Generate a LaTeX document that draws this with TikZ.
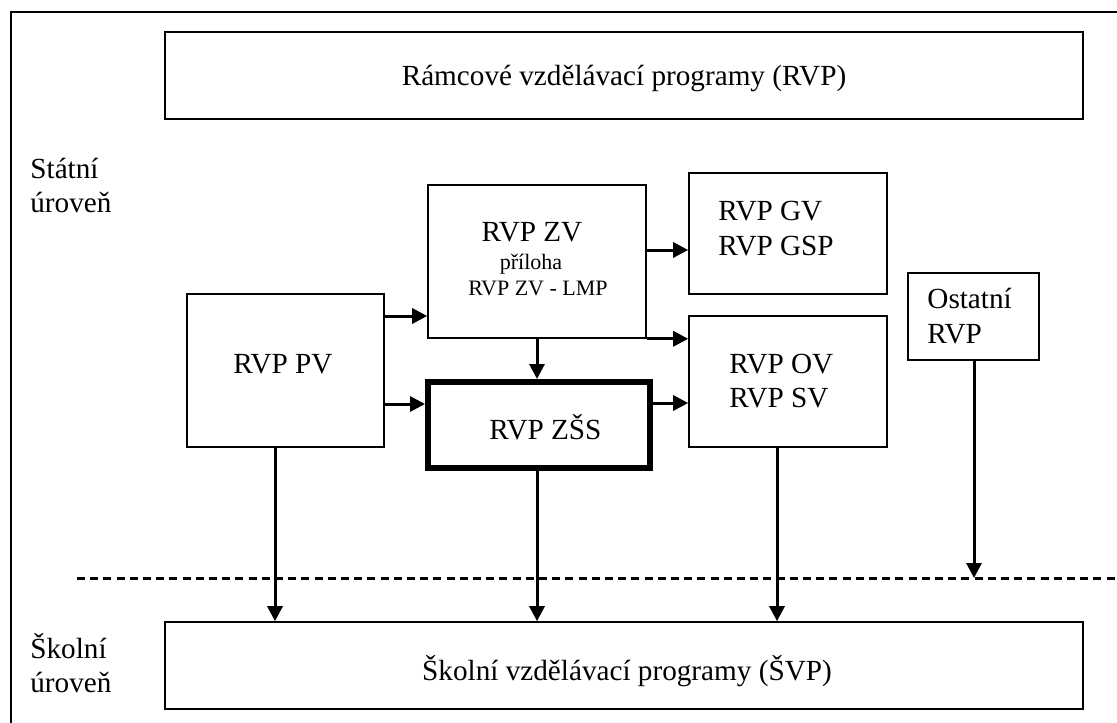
\documentclass[tikz,border=0pt]{standalone}
\usepackage{fontspec}
\setmainfont{Liberation Serif}
\usetikzlibrary{arrows.meta}
\begin{document}
\begin{tikzpicture}[x=0.5pt,y=-0.5pt,
  box/.style={draw,line width=0.8pt,rectangle,inner sep=0pt},
  thickbox/.style={draw,line width=3pt,rectangle,inner sep=0pt},
  txt/.style={inner sep=0pt,font=\fontsize{14.6}{17}\selectfont},
  small/.style={inner sep=0pt,font=\fontsize{11}{13}\selectfont},
  arr/.style={line width=1.5pt,-{Triangle[length=7.5pt,width=7.5pt]}},
  sep/.style={line width=1.5pt,dash pattern=on 4pt off 2.6pt}]
\useasboundingbox (0,0) rectangle (1117,722);
% outer frame
\draw[line width=0.8pt] (11,760) rectangle (1160,12);
% boxes
\node[box,minimum width=459pt,minimum height=43.5pt] (rvp) at (624,75.5) {};
\node[box,minimum width=109pt,minimum height=76.5pt] (zv) at (537,261.5) {};
\node[box,minimum width=99pt,minimum height=60.5pt] (gv) at (788,233.5) {};
\node[box,minimum width=99pt,minimum height=65.5pt] (ov) at (788,381.5) {};
\node[box,minimum width=65.5pt,minimum height=43.5pt] (ost) at (973.5,316.5) {};
\node[box,minimum width=98.5pt,minimum height=76.5pt] (pv) at (285.5,370.5) {};
\node[thickbox,minimum width=111pt,minimum height=43pt] (zss) at (539,425) {};
\node[box,minimum width=459pt,minimum height=43.5pt] (svp) at (624,665.5) {};
% texts
\node[txt,anchor=base] (trvp) at (624,85) {Rámcové vzdělávací programy (RVP)};
\node[txt,anchor=base west] (st1) at (30,178) {Státní};
\node[txt,anchor=base west] (st2) at (30,212) {úroveň};
\node[txt,anchor=base west] (sk1) at (30,658) {Školní};
\node[txt,anchor=base west] (sk2) at (30,692) {úroveň};
\node[txt,anchor=base] (tzv) at (532,241.7) {RVP ZV};
\node[small,anchor=base] (tpr) at (531,269.3) {příloha};
\node[small,anchor=base] (tlmp) at (538,295) {RVP ZV - LMP};
\node[txt,anchor=base west] (tgv1) at (718,220) {RVP GV};
\node[txt,anchor=base west] (tgv2) at (718,255) {RVP GSP};
\node[txt,anchor=base west] (tov1) at (729,373) {RVP OV};
\node[txt,anchor=base west] (tov2) at (729,407) {RVP SV};
\node[txt,anchor=base west] (tost1) at (927,308) {Ostatní};
\node[txt,anchor=base west] (tost2) at (927,343) {RVP};
\node[txt,anchor=base] (tpv) at (283,373) {RVP PV};
\node[txt,anchor=base west] (tzss) at (489,439) {RVP ZŠS};
\node[txt,anchor=base] (tsvp) at (627,680) {Školní vzdělávací programy (ŠVP)};
% dashed separator
\coordinate (dl) at (77,578);
\coordinate (dr) at (1130,578);
\draw[sep] (dl) -- (dr);
% arrows
\draw[arr] (pv.east |- 0,316) -- (zv.west |- 0,316);
\draw[arr] (pv.east |- 0,404) -- (zss.west |- 0,404);
\draw[arr] (zv.east |- 0,250) -- (gv.west |- 0,250);
\draw[arr] (zv.south east) -- (ov.west |- zv.south east);
\draw[arr] (zss.east |- 0,403) -- (ov.west |- 0,403);
\draw[arr] (zv.south) -- (zss.north -| zv.south);
\draw[arr] (pv.south -| 275,0) -- (svp.north -| 275,0);
\draw[arr] (zss.south -| zv.south) -- (svp.north -| zv.south);
\draw[arr] (ov.south -| 777,0) -- (svp.north -| 777,0);
\coordinate (ostend) at (974,578);
\draw[arr] (ost.south -| ostend) -- (ostend);
\end{tikzpicture}
\end{document}
